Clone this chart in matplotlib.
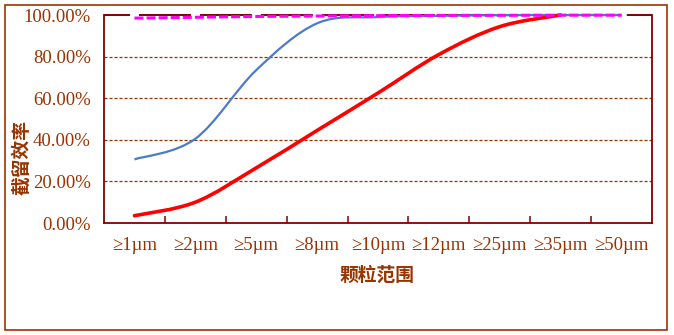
import matplotlib
matplotlib.use("Agg")
import matplotlib.pyplot as plt
from matplotlib.path import Path
from matplotlib.patches import PathPatch, Rectangle
import numpy as np

plt.rcParams['lines.scale_dashes'] = False

categories = ['≥1µm', '≥2µm', '≥5µm', '≥8µm', '≥10µm', '≥12µm', '≥25µm', '≥35µm', '≥50µm']
blue_vals = [30.6, 40.5, 73.5, 96.0, 99.0, 99.6, 99.9, 100.0, 100.0]
red_vals = [3.5, 10.0, 26.5, 44.5, 62.5, 81.0, 94.4, 100.0]
magenta_vals = [98.5, 98.9, 99.3, 99.5, 99.7, 99.8, 99.85, 99.9, 99.9]
y_ticks = [0, 20, 40, 60, 80, 100]

TEXT = '#993300'
AXIS = '#800000'
SERIF = ['Liberation Serif', 'DejaVu Serif']
CJK = ['Noto Sans CJK SC', 'DejaVu Sans']


def smooth_path(xs, ys):
    # Catmull-Rom style bezier, like a smoothed Excel line
    pts = np.column_stack([xs, ys]).astype(float)
    n = len(pts)
    verts = [pts[0]]
    codes = [Path.MOVETO]
    for i in range(n - 1):
        p0 = pts[i - 1] if i > 0 else pts[i]
        p1 = pts[i]
        p2 = pts[i + 1]
        p3 = pts[i + 2] if i + 2 < n else pts[i + 1]
        verts += [p1 + (p2 - p0) / 6.0, p2 - (p3 - p1) / 6.0, p2]
        codes += [Path.CURVE4] * 3
    return Path(verts, codes)


def add_smooth(ax, vals, **kw):
    xs = np.arange(len(vals))
    patch = PathPatch(smooth_path(xs, vals), fill=False, clip_on=False, **kw)
    ax.add_patch(patch)
    return patch


fig = plt.figure(figsize=(6.74, 3.35), dpi=100)
ax = fig.add_axes([104 / 674, 112 / 335, 548 / 674, 208 / 335])

ax.set_xlim(-0.5, len(categories) - 0.5)
ax.set_ylim(0, 100)

for y in y_ticks[1:-1]:
    ax.axhline(y, color=TEXT, lw=0.9, linestyle=(0, (2.2, 1.4)), zorder=1)
# top border drawn as long dashes, gaps falling on the category centres
ax.axhline(100, color=AXIS, lw=1.4, linestyle=(18.7, (37.4, 6.5)), clip_on=False, zorder=2)

add_smooth(ax, blue_vals, edgecolor='#4a7cc7', lw=1.6, zorder=3)
add_smooth(ax, red_vals, edgecolor='#ff0000', lw=2.6, zorder=4, capstyle='round')
add_smooth(ax, magenta_vals, edgecolor='#ff00ff', lw=2.2, zorder=5,
           linestyle=(0, (6.5, 2.2)))

ax.set_yticks(y_ticks)
ax.set_yticklabels([f'{v:.2f}%' for v in y_ticks], fontfamily=SERIF, fontsize=13.5, color=TEXT)
ax.tick_params(axis='y', length=0, pad=9.5)

ax.set_xticks(np.arange(len(categories)))
ax.set_xticklabels(categories, fontfamily=SERIF, fontsize=13.5, color=TEXT)
ax.set_xticks(np.arange(0.5, len(categories) - 1, 1.0), minor=True)
ax.tick_params(axis='x', which='major', length=0, pad=10)
ax.tick_params(axis='x', which='minor', direction='in', length=5, width=1.1, color=AXIS)

for side in ['left', 'bottom', 'right']:
    ax.spines[side].set_color(AXIS)
    ax.spines[side].set_linewidth(1.3)
ax.spines['top'].set_visible(False)

fig.text(22 / 674, 1 - 157 / 335, '截留效率', rotation=90, ha='center', va='center',
         fontfamily=CJK, fontsize=13.5, fontweight='bold', color=TEXT)
fig.text(377 / 674, 1 - 275 / 335, '颗粒范围', ha='center', va='center',
         fontfamily=CJK, fontsize=13.5, fontweight='bold', color=TEXT)

fig.patches.append(Rectangle((4.5 / 674, 5.5 / 335), 662 / 674, 325 / 335,
                             transform=fig.transFigure, fill=False,
                             edgecolor=TEXT, lw=1.2))

fig.savefig('out.png', dpi=100)
